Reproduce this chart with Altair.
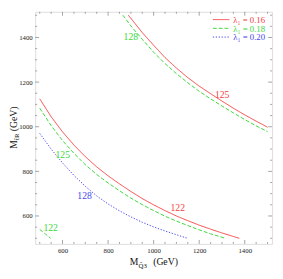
import altair as alt
import pandas as pd

# ---------------- data ----------------
lam_values = ["0.16", "0.18", "0.20"]
lam_colors = ["#f54040", "#3ad83a", "#4545ee"]
lam_dash = [[1, 0], [4, 2], [1.3, 1.7]]

# lambda1 = 0.16, m_h = 122 (lower red)
red122_x = [500, 550, 600, 650, 700, 750, 800, 850, 900, 950, 1000, 1050, 1100, 1150, 1200, 1250, 1300, 1376]
red122_y = [1125, 1045, 977, 918, 866, 820, 780, 744, 710, 678, 650, 624, 600, 579, 559, 541, 524, 500]
# lambda1 = 0.16, m_h = 125 (upper red)
red125_x = [889, 950, 1000, 1050, 1100, 1150, 1200, 1250, 1300, 1350, 1400, 1450, 1500]
red125_y = [1500, 1422, 1365, 1310, 1263, 1220, 1182, 1148, 1115, 1083, 1053, 1025, 998]
# lambda1 = 0.18, m_h = 122 (corner green)
grn122_x = [500, 525, 548]
grn122_y = [540, 519, 500]
# lambda1 = 0.18, m_h = 125 (lower green)
grn125_x = [500, 550, 600, 650, 700, 750, 800, 850, 900, 950, 1000, 1050, 1100, 1150, 1200, 1250, 1315]
grn125_y = [1083, 1005, 938, 881, 830, 786, 748, 713, 680, 651, 624, 599, 577, 557, 538, 520, 500]
# lambda1 = 0.18, m_h = 128 (upper green)
grn128_x = [865, 900, 950, 1000, 1050, 1100, 1150, 1200, 1250, 1300, 1350, 1400, 1450, 1500]
grn128_y = [1500, 1452, 1392, 1334, 1283, 1238, 1197, 1159, 1125, 1093, 1062, 1032, 1004, 978]
# lambda1 = 0.20, m_h = 128 (blue)
blu128_x = [500, 550, 600, 650, 700, 750, 800, 850, 900, 950, 1000, 1050, 1100, 1149]
blu128_y = [970, 900, 838, 782, 733, 690, 654, 623, 596, 572, 551, 533, 516, 500]

# contour labels
label_text = ["128", "125", "122", "125", "128", "122"]
label_lam = ["0.18", "0.16", "0.16", "0.18", "0.20", "0.18"]
label_x = [900, 1301, 1106, 601, 697, 548]
label_y = [1400, 1144, 636, 875, 689, 546]

# frame ticks
major_ticks = [600, 800, 1000, 1200, 1400]
minor_ticks = [500, 550, 650, 700, 750, 850, 900, 950, 1050, 1100, 1150,
               1250, 1300, 1350, 1450, 1500]

legend_text = ["\u03bb\u2081 = 0.16", "\u03bb\u2081 = 0.18", "\u03bb\u2081 = 0.20"]

# ---------------- tables ----------------
curve_list = [
    ("r122", "0.16", red122_x, red122_y),
    ("r125", "0.16", red125_x, red125_y),
    ("g122", "0.18", grn122_x, grn122_y),
    ("g125", "0.18", grn125_x, grn125_y),
    ("g128", "0.18", grn128_x, grn128_y),
    ("b128", "0.20", blu128_x, blu128_y),
]
rows = []
for cid, lam, xs, ys in curve_list:
    for i, (a, b) in enumerate(zip(xs, ys)):
        rows.append({"curve": cid, "lam": lam, "x": a, "y": b, "i": i})
curves = pd.DataFrame(rows)
labels = pd.DataFrame({"t": label_text, "lam": label_lam, "x": label_x, "y": label_y})

W, H = 244, 239
FONT = "Liberation Serif"
FRAME = "#8a8a8a"

xsc = alt.Scale(domain=[480, 1520], nice=False, zero=False)
ysc = alt.Scale(domain=[475, 1515], nice=False, zero=False)
xaxis = alt.Axis(values=major_ticks, format="d", ticks=False, domain=False, grid=False, title=None,
                 labelFont=FONT, labelFontSize=7, labelColor="#222222", labelPadding=3)
yaxis = alt.Axis(values=major_ticks, format="d", ticks=False, domain=False, grid=False, title=None,
                 labelFont=FONT, labelFontSize=7, labelColor="#222222", labelPadding=3)
X = alt.X("x:Q", scale=xsc, axis=xaxis)
Y = alt.Y("y:Q", scale=ysc, axis=yaxis)
cscale = alt.Scale(domain=lam_values, range=lam_colors)
dscale = alt.Scale(domain=lam_values, range=lam_dash)

layers = []
# ticks on the four sides (inward)
for vals, ln in ((major_ticks, 4), (minor_ticks, 2)):
    dx = pd.DataFrame({"x": vals})
    dy = pd.DataFrame({"y": vals})
    layers.append(alt.Chart(dx).mark_rule(color=FRAME, strokeWidth=0.8).encode(
        x=X, y=alt.value(H), y2=alt.value(H - ln)))
    layers.append(alt.Chart(dx).mark_rule(color=FRAME, strokeWidth=0.8).encode(
        x=X, y=alt.value(0), y2=alt.value(ln)))
    layers.append(alt.Chart(dy).mark_rule(color=FRAME, strokeWidth=0.8).encode(
        y=Y, x=alt.value(0), x2=alt.value(ln)))
    layers.append(alt.Chart(dy).mark_rule(color=FRAME, strokeWidth=0.8).encode(
        y=Y, x=alt.value(W), x2=alt.value(W - ln)))

# curves
layers.append(alt.Chart(curves).mark_line(strokeWidth=1.0).encode(
    x=X, y=Y,
    color=alt.Color("lam:N", scale=cscale, legend=None),
    strokeDash=alt.StrokeDash("lam:N", scale=dscale, legend=None),
    detail="curve:N", order="i:Q"))

# contour labels
layers.append(alt.Chart(labels).mark_text(font=FONT, fontSize=10).encode(
    x=X, y=Y, text="t:N",
    color=alt.Color("lam:N", scale=cscale, legend=None)))

# legend (top right, inside the frame)
one = pd.DataFrame({"k": [0]})
for k in range(3):
    ly = 8 + 9 * k
    layers.append(alt.Chart(one).mark_rule(color=lam_colors[k], strokeWidth=1.0,
                                           strokeDash=lam_dash[k]).encode(
        x=alt.value(183), x2=alt.value(200), y=alt.value(ly)))
    layers.append(alt.Chart(one).mark_text(text=legend_text[k], font=FONT, fontSize=9,
                                           color=lam_colors[k], align="left",
                                           baseline="middle").encode(
        x=alt.value(204), y=alt.value(ly + 0.5)))

# axis titles
layers.append(alt.Chart(one).mark_text(text="M", font=FONT, fontSize=10, color="#111111",
                                       align="left", baseline="alphabetic").encode(
    x=alt.value(97.5), y=alt.value(H + 22)))
layers.append(alt.Chart(one).mark_text(text="Q\u03033", font=FONT, fontSize=7, color="#111111",
                                       align="left", baseline="alphabetic").encode(
    x=alt.value(106.5), y=alt.value(H + 24.5)))
layers.append(alt.Chart(one).mark_text(text="(GeV)", font=FONT, fontSize=10, color="#111111",
                                       align="left", baseline="alphabetic").encode(
    x=alt.value(121.5), y=alt.value(H + 22)))

layers.append(alt.Chart(one).mark_text(text="M", font=FONT, fontSize=10, color="#111111",
                                       align="left", baseline="alphabetic", angle=270).encode(
    x=alt.value(-19), y=alt.value(141)))
layers.append(alt.Chart(one).mark_text(text="t\u0303R", font=FONT, fontSize=7, color="#111111",
                                       align="left", baseline="alphabetic", angle=270).encode(
    x=alt.value(-16.5), y=alt.value(132)))
layers.append(alt.Chart(one).mark_text(text="(GeV)", font=FONT, fontSize=10, color="#111111",
                                       align="left", baseline="alphabetic", angle=270).encode(
    x=alt.value(-19), y=alt.value(123)))

chart = alt.layer(*layers).properties(
    width=W, height=H,
    autosize=alt.AutoSizeParams(type="none"),
    padding={"left": 28, "top": 0, "right": 3, "bottom": 24},
).configure_view(stroke=FRAME, strokeWidth=1).configure(background="white")

chart.save("out.html", embed_options={"renderer": "svg", "actions": False})
